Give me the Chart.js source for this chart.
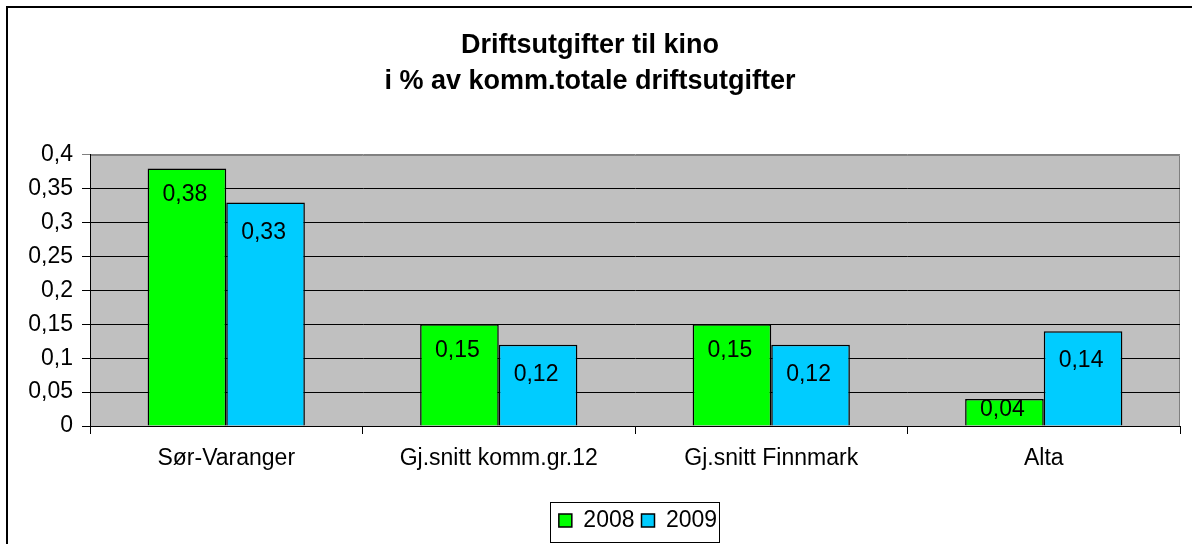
<!DOCTYPE html>
<html>
<head>
<meta charset="utf-8">
<script src="https://cdn.jsdelivr.net/npm/chart.js@4/dist/chart.umd.min.js"></script>
<style>
  html, body { margin: 0; padding: 0; background: #fff; }
  #wrap { position: relative; width: 1192px; height: 544px; overflow: hidden; }
  #frame { position: absolute; left: 6px; top: 6px; width: 1300px; height: 700px; border: 2px solid #000; box-sizing: border-box; }
  canvas { position: absolute; left: 0; top: 0; }
</style>
</head>
<body>
<div id="wrap">
  <div id="frame"></div>
  <canvas id="c" width="1192" height="544"></canvas>
</div>
<script>
const categories = ['Sør-Varanger', 'Gj.snitt komm.gr.12', 'Gj.snitt Finnmark', 'Alta'];
const values2008 = [0.38, 0.15, 0.15, 0.04];
const values2009 = [0.33, 0.12, 0.12, 0.14];
const seriesNames = ['2008', '2009'];
const titleLines = ['Driftsutgifter til kino', 'i % av komm.totale driftsutgifter'];

const FONT = "'Liberation Sans', Arial, sans-serif";
const TXT = 23;
const fmt = v => String(Number(v.toFixed(2))).replace('.', ',');

const plotBg = {
  id: 'plotBg',
  beforeDraw(chart) {
    const {ctx, chartArea: a} = chart;
    ctx.save();
    ctx.fillStyle = '#c0c0c0';
    ctx.fillRect(a.left, a.top, a.right - a.left, a.bottom - a.top);
    ctx.strokeStyle = '#808080';
    ctx.lineWidth = 1;
    ctx.beginPath();
    ctx.moveTo(a.left, a.top + 0.5);
    ctx.lineTo(a.right - 0.5, a.top + 0.5);
    ctx.lineTo(a.right - 0.5, a.bottom);
    ctx.stroke();
    ctx.restore();
  }
};

const barLabels = {
  id: 'barLabels',
  afterDatasetsDraw(chart) {
    const {ctx} = chart;
    ctx.save();
    ctx.font = TXT + 'px ' + FONT;
    ctx.fillStyle = '#000';
    ctx.textAlign = 'center';
    ctx.textBaseline = 'middle';
    chart.data.datasets.forEach((ds, di) => {
      const meta = chart.getDatasetMeta(di);
      const off = di === 0 ? 26 : 30;
      meta.data.forEach((bar, i) => {
        const h = bar.base - bar.y;
        const dy = Math.min(off, h / 2.4);
        ctx.fillText(fmt(ds.data[i]), bar.x - 2, bar.y + dy);
      });
    });
    ctx.restore();
  }
};

const LEGEND_SHIFT = 48;
const legendShift = {
  id: 'legendShift',
  afterLayout(chart) {
    const lg = chart.legend;
    lg.left += LEGEND_SHIFT;
    lg.right += LEGEND_SHIFT;
    (lg.legendHitBoxes || []).forEach(h => { h.left += LEGEND_SHIFT; });
  },
  afterDraw(chart) {
    const hb = chart.legend.legendHitBoxes;
    if (!hb || !hb.length) return;
    const {ctx} = chart;
    const l = hb[0].left - 9, r = hb[hb.length - 1].left + hb[hb.length - 1].width + 2;
    const t = hb[0].top - 7, b = hb[0].top + hb[0].height + 10;
    ctx.save();
    ctx.strokeStyle = '#000';
    ctx.lineWidth = 1;
    ctx.strokeRect(Math.round(l) + 0.5, Math.round(t) + 0.5, Math.round(r - l), Math.round(b - t));
    ctx.restore();
  }
};

new Chart(document.getElementById('c'), {
  type: 'bar',
  data: {
    labels: categories,
    datasets: [
      { label: seriesNames[0], data: values2008, backgroundColor: '#00ff00', borderColor: '#000', borderWidth: 1.5 },
      { label: seriesNames[1], data: values2009, backgroundColor: '#00ccff', borderColor: '#000', borderWidth: 1.5 }
    ]
  },
  options: {
    responsive: false,
    animation: false,
    devicePixelRatio: 1,
    layout: { padding: { left: 0, right: 12, top: 0, bottom: 2 } },
    datasets: { bar: { categoryPercentage: 0.577, barPercentage: 1.0 } },
    scales: {
      x: {
        grid: { offset: true, drawOnChartArea: false, drawTicks: true, tickLength: 8,
                color: ctx => ctx.index === 4 ? '#808080' : '#000' },
        border: { display: true, color: '#000', width: 1 },
        ticks: { color: '#000', font: { family: FONT, size: TXT }, padding: 11, maxRotation: 0 },
        afterFit(scale) { scale.height = 76; }
      },
      y: {
        min: 0, max: 0.4,
        grid: { color: ctx => (ctx.tick && ctx.tick.value >= 0.399) ? '#808080' : '#000', tickLength: 8, lineWidth: 1 },
        border: { display: true, color: '#000', width: 1 },
        ticks: { stepSize: 0.05, color: '#000', font: { family: FONT, size: TXT }, padding: 9,
                 callback: v => fmt(v) },
        afterFit(scale) { scale.width = 90; }
      }
    },
    plugins: {
      title: {
        display: true,
        text: titleLines,
        color: '#000',
        font: { family: FONT, size: 27, weight: 'bold', lineHeight: 1.333 },
        padding: { top: 28, bottom: 55 }
      },
      legend: {
        display: true,
        position: 'bottom',
        labels: { color: '#000', font: { family: FONT, size: TXT }, boxWidth: 13, boxHeight: 13, padding: 7 }
      },
      tooltip: { enabled: false }
    }
  },
  plugins: [plotBg, barLabels, legendShift]
});
</script>
</body>
</html>
